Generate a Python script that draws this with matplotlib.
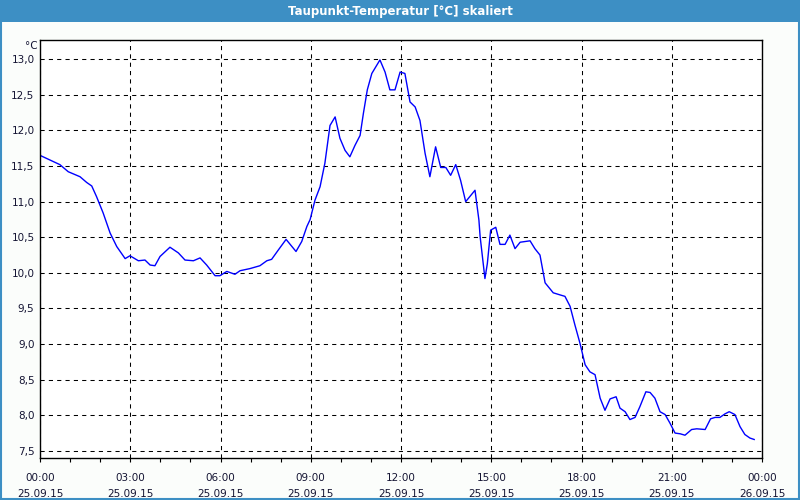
import matplotlib.pyplot as plt
import matplotlib.patches as patches
import numpy as np

# Taupunkt-Temperatur, 25.09.15 (hours since midnight, degC)
hours = [0.0, 0.66, 0.94, 1.33, 1.55, 1.72, 1.88, 2.10, 2.33, 2.55, 2.83, 2.99,
         3.27, 3.49, 3.66, 3.82, 3.99, 4.32, 4.60, 4.82, 5.10, 5.32, 5.54, 5.82,
         5.98, 6.21, 6.48, 6.65, 6.98, 7.31, 7.54, 7.70, 7.92, 8.18, 8.51, 8.70,
         8.87, 8.98, 9.14, 9.31, 9.47, 9.64, 9.81, 9.97, 10.14, 10.30, 10.47,
         10.64, 10.75, 10.88, 11.03, 11.30, 11.47, 11.63, 11.80, 11.97, 12.13,
         12.30, 12.47, 12.63, 12.80, 12.96, 13.15, 13.32, 13.49, 13.65, 13.82,
         13.98, 14.15, 14.46, 14.59, 14.63, 14.79, 14.87, 14.98, 15.15, 15.29,
         15.46, 15.62, 15.79, 15.96, 16.29, 16.45, 16.62, 16.79, 17.06, 17.29,
         17.45, 17.62, 17.78, 17.95, 18.12, 18.28, 18.45, 18.62, 18.78, 18.95,
         19.15, 19.28, 19.45, 19.61, 19.78, 19.94, 20.14, 20.28, 20.44, 20.61,
         20.78, 20.94, 21.11, 21.28, 21.44, 21.66, 21.83, 22.11, 22.29, 22.44,
         22.60, 22.77, 22.91, 23.10, 23.27, 23.43, 23.60, 23.74]
dewpoint = [11.65, 11.52, 11.42, 11.35, 11.27, 11.22, 11.07, 10.84, 10.56, 10.37,
            10.20, 10.24, 10.17, 10.18, 10.11, 10.10, 10.23, 10.36, 10.28, 10.18,
            10.17, 10.21, 10.11, 9.96, 9.96, 10.02, 9.98, 10.03, 10.06, 10.10,
            10.17, 10.19, 10.32, 10.47, 10.30, 10.44, 10.65, 10.75, 11.02, 11.21,
            11.54, 12.07, 12.19, 11.89, 11.72, 11.63, 11.79, 11.93, 12.24, 12.57,
            12.80, 12.99, 12.82, 12.57, 12.57, 12.82, 12.80, 12.40, 12.33, 12.14,
            11.68, 11.35, 11.77, 11.48, 11.48, 11.37, 11.52, 11.30, 11.00, 11.16,
            10.74, 10.51, 9.92, 10.13, 10.60, 10.64, 10.40, 10.40, 10.53, 10.34,
            10.43, 10.45, 10.34, 10.25, 9.86, 9.72, 9.69, 9.67, 9.53, 9.27, 9.01,
            8.71, 8.61, 8.57, 8.24, 8.07, 8.23, 8.26, 8.10, 8.05, 7.94, 7.97, 8.12,
            8.33, 8.32, 8.24, 8.05, 8.01, 7.89, 7.75, 7.74, 7.72, 7.80, 7.81, 7.80,
            7.95, 7.97, 7.97, 8.02, 8.05, 8.01, 7.84, 7.73, 7.68, 7.66]

tick_hours = [0, 3, 6, 9, 12, 15, 18, 21, 24]
tick_labels = ['00:00\n25.09.15', '03:00\n25.09.15', '06:00\n25.09.15',
               '09:00\n25.09.15', '12:00\n25.09.15', '15:00\n25.09.15',
               '18:00\n25.09.15', '21:00\n25.09.15', '00:00\n26.09.15']
y_ticks = [7.5, 8.0, 8.5, 9.0, 9.5, 10.0, 10.5, 11.0, 11.5, 12.0, 12.5, 13.0]

plt.rcParams['font.family'] = ['DejaVu Sans']
txt = '#141433'

fig = plt.figure(figsize=(8, 5), dpi=100, facecolor='#fbfdfb')

# title bar and frame
blue = '#3d8fc4'
fig.patches.append(patches.Rectangle((0, 1 - 22 / 500), 1, 22 / 500, transform=fig.transFigure,
                                     facecolor=blue, edgecolor='none', zorder=0))
fig.patches.append(patches.Rectangle((1 / 800, 1 / 500), 798 / 800, 498 / 500,
                                     transform=fig.transFigure, facecolor='none',
                                     edgecolor=blue, linewidth=1.5, zorder=0))
fig.text(0.5, 1 - 11 / 500, 'Taupunkt-Temperatur [°C] skaliert', color='white',
         ha='center', va='center', fontsize=8.5, fontweight='bold')

ax = fig.add_axes([40 / 800, 42 / 500, 722 / 800, 418 / 500])
ax.set_facecolor('white')
ax.plot(hours, dewpoint, color='#0000ff', linewidth=1)

ax.set_xlim(0, 24)
ax.set_ylim(7.40, 13.27)
ax.set_xticks(tick_hours)
ax.set_xticklabels(tick_labels, fontsize=7.5, linespacing=1.7, color=txt)
ax.set_xticks(np.arange(0, 25, 1), minor=True)
ax.set_yticks(y_ticks)
ax.set_yticklabels([f'{v:.1f}'.replace('.', ',') for v in y_ticks], fontsize=7.5, color=txt)
ax.tick_params(axis='x', which='both', length=3, width=0.8, direction='out', pad=8)
ax.tick_params(axis='y', length=0, pad=4)

ax.grid(True, color='black', linestyle=(0, (4, 4)), linewidth=0.75)
for s in ax.spines.values():
    s.set_color('black')
    s.set_linewidth(1.0)

fig.text(38 / 800, 1 - 46 / 500, '°C', ha='right', va='center', fontsize=7.5, color=txt)

fig.savefig('out.png', dpi=100, facecolor=fig.get_facecolor())
